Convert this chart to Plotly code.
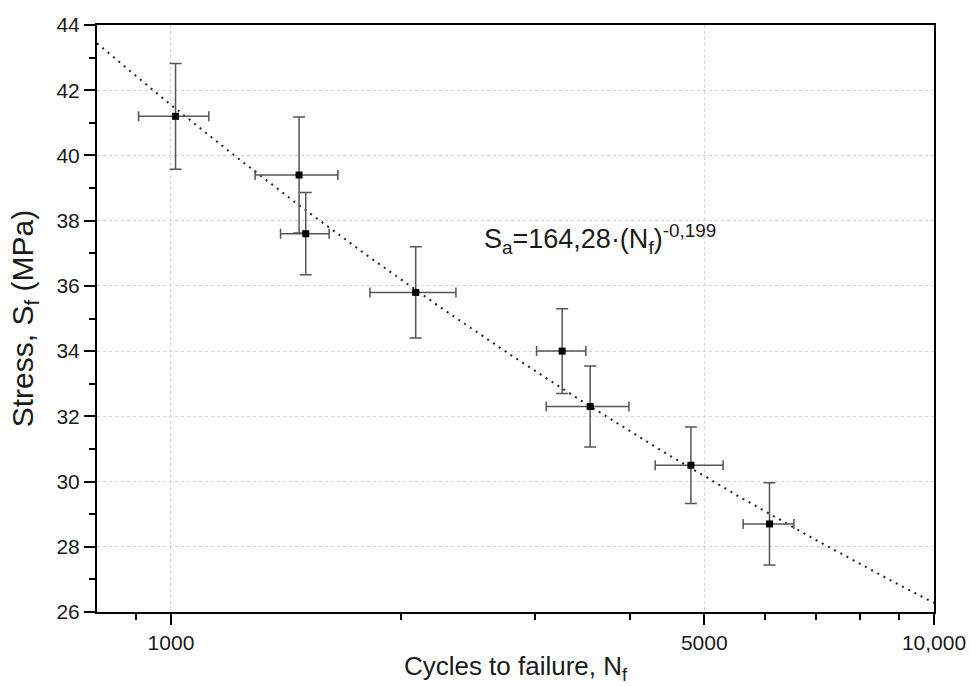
import numpy as np
import plotly.graph_objects as go

# Data
cycles = [1014, 1472, 1502, 2093, 3256, 3543, 4802, 6087]
cycles_err = [107, 183, 110, 270, 242, 440, 490, 465]
stress = [41.2, 39.4, 37.6, 35.8, 34.0, 32.3, 30.5, 28.7]
stress_err = [1.62, 1.78, 1.26, 1.4, 1.3, 1.24, 1.17, 1.26]

# Basquin fit shown on the chart: S_a = 164.28 * N_f^-0.199
FIT_A = 164.28
FIT_B = -0.199
X_MIN, X_MAX = 800, 10000

x_tickvals = [1000, 5000, 10000]
x_ticktext = ["1000", "5000", "10,000"]
x_minor = [900, 2000, 3000, 4000, 6000, 7000, 8000, 9000]
y_tickvals = [26, 28, 30, 32, 34, 36, 38, 40, 42, 44]

fit_x = np.logspace(np.log10(X_MIN), np.log10(X_MAX), 200)
fit_y = FIT_A * fit_x ** FIT_B

FONT = "Liberation Sans, Arial, sans-serif"
TXT = "#1a1a1a"
fig = go.Figure()

fig.add_trace(go.Scatter(
    x=fit_x, y=fit_y, mode="lines",
    line=dict(color="#222222", width=2, dash="2px,5px"),
    hoverinfo="skip", showlegend=False,
))

fig.add_trace(go.Scatter(
    x=cycles, y=stress, mode="markers",
    marker=dict(symbol="square", size=7, color="black"),
    error_x=dict(type="data", array=cycles_err, color="#555555", thickness=1.5, width=5),
    error_y=dict(type="data", array=stress_err, color="#555555", thickness=1.5, width=6),
    showlegend=False,
))

fig.add_annotation(
    x=np.log10(2559), y=37.45, xref="x", yref="y",
    text="S<sub>a</sub>=164,28·(N<sub>f</sub>)<sup>-0,199</sup>",
    showarrow=False, font=dict(family=FONT, size=27, color=TXT),
    xanchor="left", yanchor="middle",
)

fig.update_xaxes(
    type="log", range=[np.log10(X_MIN), np.log10(X_MAX)],
    tickvals=x_tickvals, ticktext=x_ticktext,
    ticks="outside", ticklen=11, tickwidth=2, tickcolor="black",
    minor=dict(tickvals=x_minor,
               ticks="outside", ticklen=6, tickwidth=2, tickcolor="black", showgrid=False),
    showline=True, linecolor="black", linewidth=2, mirror=True,
    showgrid=True, gridcolor="#d4d4d4", griddash="dot", gridwidth=1,
    tickfont=dict(family=FONT, size=21, color=TXT),
    title=dict(text="Cycles to failure, N<sub>f</sub>", font=dict(family=FONT, size=26, color=TXT), standoff=4),
    zeroline=False, automargin=False,
)
fig.update_yaxes(
    range=[26, 44], tickvals=y_tickvals,
    ticks="outside", ticklen=11, tickwidth=2, tickcolor="black",
    minor=dict(dtick=1, ticks="outside", ticklen=6, tickwidth=2, tickcolor="black", showgrid=False),
    showline=True, linecolor="black", linewidth=2, mirror=True,
    showgrid=True, gridcolor="#d4d4d4", griddash="dot", gridwidth=1,
    tickfont=dict(family=FONT, size=21, color=TXT),
    title=dict(text="Stress, S<sub>f</sub> (MPa)", font=dict(family=FONT, size=30, color=TXT), standoff=14),
    zeroline=False, automargin=False,
)

fig.update_layout(
    width=971, height=686,
    margin=dict(l=97, r=37, t=25, b=74),
    plot_bgcolor="white", paper_bgcolor="white",
)

fig.write_html(
    "out.html",
    config={"displayModeBar": False},
    post_script="document.body.style.margin='0';document.documentElement.style.overflow='hidden';",
)
